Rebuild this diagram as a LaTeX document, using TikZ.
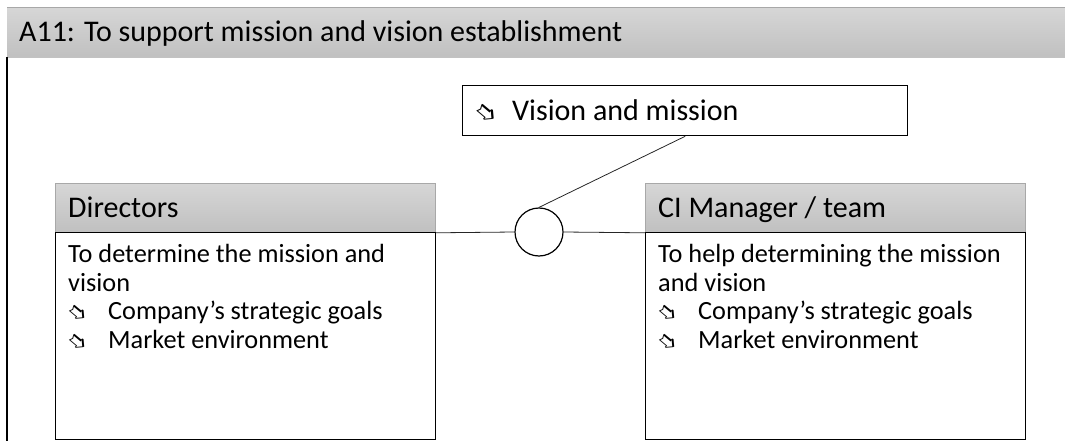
\documentclass[tikz,border=0pt]{standalone}
\usepackage{fontspec}
\setmainfont{Carlito}
\newfontfamily\symfont{DejaVu Sans}
\usepackage{graphicx}
\newcommand{\bul}[2]{\smash{\raisebox{#2}{\rotatebox{-40}{\symfont\fontsize{#1}{#1}\selectfont ➱}}}}
\newcommand{\bitem}[1]{\makebox[40pt][l]{\hspace*{-2pt}\bul{22}{7pt}}#1}
\definecolor{hdrtop}{HTML}{D6D6D6}
\definecolor{hdrbot}{HTML}{C0C0C0}
\definecolor{hdrline}{HTML}{A8A8A8}
\begin{document}
\begin{tikzpicture}[x=1pt,y=-1pt,
  hdr/.style={rectangle, draw=hdrline, line width=0.8pt, top color=hdrtop, bottom color=hdrbot, minimum width=380pt, minimum height=49pt, anchor=north west, inner sep=0pt},
  bodybox/.style={rectangle, draw=black, line width=1.3pt, minimum width=380pt, minimum height=207pt, anchor=north west, inner sep=0pt},
  hdrtext/.style={anchor=base west, inner sep=0pt, font=\fontsize{30}{34}\selectfont},
  bodytext/.style={anchor=base west, inner sep=0pt, font=\fontsize{26.3}{28.5}\selectfont},
  conn/.style={draw=black!85, line width=0.8pt}]
\useasboundingbox (0,0) rectangle (1065,441);
% title bar
\node[rectangle, draw=none, top color=hdrtop, bottom color=hdrbot, minimum width=1060pt, minimum height=49pt, anchor=north west, inner sep=0pt] (title) at (7,8) {};
\draw[hdrline, line width=1pt] (title.north west) -- (title.north east);
\draw[hdrline!70, line width=0.6pt] (title.south west) -- (title.south east);
\node[anchor=base west, inner sep=0pt, font=\fontsize{30}{34}\selectfont] (titletext) at (19,42) {A11: To support mission and vision establishment};
\coordinate (framebot) at (7,441);
\draw[black, line width=1.3pt] (title.south west) -- (framebot);
% vision box
\node[rectangle, draw=black, line width=1.3pt, minimum width=445pt, minimum height=50pt, anchor=north west, inner sep=0pt] (vision) at (462,85) {};
\node[anchor=base west, inner sep=0pt, font=\fontsize{30}{34}\selectfont] (visiontext) at (474,121) {\makebox[38pt][l]{\hspace*{-1pt}\bul{25}{9pt}}Vision and mission};
% directors
\node[hdr] (dirhead) at (55,183) {};
\node[hdrtext] (dirheadtext) at (68,217) {Directors};
\node[bodybox] (dirbody) at (55,232) {};
\node[bodytext] (dirtext) at (68,262.5) {\parbox[t]{370pt}{To determine the mission and\\vision\\\bitem{Company’s strategic goals}\\\bitem{Market environment}}};
% CI manager
\node[hdr] (cihead) at (645,183) {};
\node[hdrtext] (ciheadtext) at (658,217) {CI Manager / team};
\node[bodybox] (cibody) at (645,232) {};
\node[bodytext] (citext) at (658,262.5) {\parbox[t]{370pt}{To help determining the mission\\and vision\\\bitem{Company’s strategic goals}\\\bitem{Market environment}}};
% junction
\node[circle, draw=black, line width=1.2pt, fill=white, minimum size=48pt, inner sep=0pt] (junc) at (539,232) {};
\draw[conn] (dirhead.south east) -- (junc.west);
\draw[conn] (junc.east) -- (cihead.south west);
\draw[conn] (vision.south) -- (junc.north);
\end{tikzpicture}
\end{document}
